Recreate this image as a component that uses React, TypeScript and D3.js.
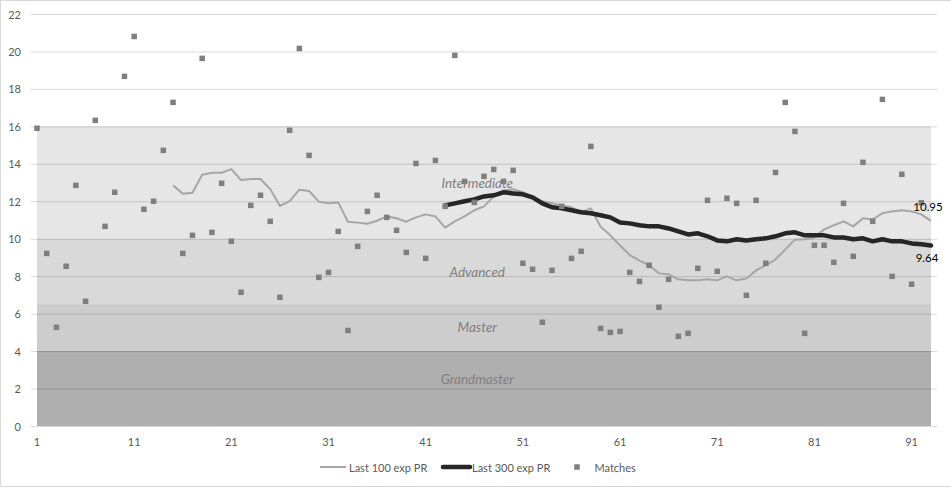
import React from "react";
import * as d3 from "d3";

// scatter: one match per game, game 1..92
const matches = [
  15.9, 9.22, 5.27, 8.53, 12.85, 6.66, 16.32, 10.66, 12.48, 18.67,
  20.8, 11.57, 12.0, 14.72, 17.28, 9.22, 10.18, 19.63, 10.34, 12.96,
  9.86, 7.14, 11.78, 12.32, 10.93, 6.87, 15.79, 20.16, 14.45, 7.94,
  8.2, 10.39, 5.1, 9.59, 11.46, 12.32, 11.14, 10.45, 9.27, 14.02,
  8.95, 14.18, 11.73, 19.79, 13.06, 11.94, 13.33, 13.7, 13.06, 13.65,
  8.69, 8.37, 5.54, 8.31, 11.73, 8.95, 9.33, 14.93, 5.21, 5.0,
  5.05, 8.2, 7.72, 8.58, 6.34, 7.83, 4.79, 4.95, 8.42, 12.05,
  8.26, 12.16, 11.89, 6.98, 12.05, 8.69, 13.54, 17.28, 15.73, 4.95,
  9.65, 9.65, 8.74, 11.89, 9.06, 14.08, 10.93, 17.44, 7.99, 13.44,
  7.57, 11.92,
];

// rolling averages, with the game they start at
const last100Start = 15;
const last100 = [
  12.85, 12.4, 12.46, 13.42, 13.52, 13.52, 13.72, 13.13, 13.19, 13.19,
  12.65, 11.75, 12.01, 12.62, 12.55, 11.98, 11.89, 11.94, 10.91, 10.86,
  10.8, 10.96, 11.19, 11.09, 10.91, 11.14, 11.3, 11.19, 10.59, 10.93,
  11.19, 11.52, 11.73, 12.26, 12.58, 12.64, 12.48, 12.26, 12.0, 11.89,
  11.78, 11.68, 11.41, 11.62, 10.64, 10.18, 9.64, 9.13, 8.83, 8.58,
  8.15, 8.1, 7.83, 7.78, 7.78, 7.83, 7.78, 7.99, 7.78, 7.88,
  8.31, 8.58, 8.9, 9.42, 9.95, 9.97, 10.07, 10.5, 10.72, 10.93,
  10.66, 11.09, 11.03, 11.36, 11.46, 11.52, 11.46, 11.3, 10.95,
];

const last300Start = 43;
const last300 = [
  11.78, 11.89, 12.0, 12.1, 12.26, 12.32, 12.48, 12.42, 12.37, 12.21,
  11.89, 11.68, 11.62, 11.52, 11.41, 11.36, 11.25, 11.14, 10.87, 10.82,
  10.72, 10.66, 10.66, 10.55, 10.39, 10.23, 10.29, 10.13, 9.91, 9.86,
  9.97, 9.91, 9.97, 10.02, 10.13, 10.29, 10.34, 10.18, 10.18, 10.18,
  10.07, 10.07, 9.97, 10.02, 9.86, 9.97, 9.86, 9.86, 9.75, 9.7, 9.64,
];

const gameCount = 93;
const bandNames = ["Grandmaster", "Master", "Advanced", "Intermediate"];
const bandBounds = [0, 4, 6.5, 10, 16];
const bandLabelAt = [2.5, 5.3, 8.2, 13.0];
const bandOpacity = [0.314, 0.196, 0.149, 0.098];
const yTicks = d3.range(0, 23, 2);
const xTicks = d3.range(1, 93, 10);

const FONT = "Lato, 'Open Sans', sans-serif";

const App = () => {
  const width = 951;
  const height = 488;
  const games = d3.range(1, gameCount + 1);

  const x = d3.scalePoint<number>().domain(games).range([37, 931]);
  const y = d3.scaleLinear().domain([0, 22]).range([426, 14]);
  const gx = (g: number) => x(g) as number;

  const line = d3
    .line<[number, number]>()
    .x((d) => gx(d[0]))
    .y((d) => y(d[1]));

  const s100 = last100.map((v, i) => [last100Start + i, v] as [number, number]);
  const s300 = last300.map((v, i) => [last300Start + i, v] as [number, number]);

  const area = (lo: number, hi: number) =>
    d3
      .area<number>()
      .x((g) => gx(g))
      .y0(y(lo))
      .y1(y(hi))(games) as string;

  const last100End = s100[s100.length - 1];
  const last300End = s300[s300.length - 1];

  return (
    <svg
      width={width}
      height={height}
      style={{ position: "absolute", left: 0, top: 0, background: "#fff" }}
      fontFamily={FONT}
    >
      <rect x={0.5} y={0.5} width={width} height={486} fill="#fff" stroke="#d9d9d9" />

      {/* gridlines */}
      {yTicks.map((t) => (
        <line key={t} x1={31} x2={937} y1={y(t) + 0.5} y2={y(t) + 0.5} stroke="#d9d9d9" strokeWidth={1} />
      ))}

      {/* rank bands */}
      {bandNames.map((name, i) => (
        <path key={name} d={area(bandBounds[i], bandBounds[i + 1])} fill="#000" fillOpacity={bandOpacity[i]} />
      ))}

      {/* y axis labels */}
      {yTicks.map((t) => (
        <text key={t} x={21} y={y(t)} textAnchor="end" dominantBaseline="central" fontSize={11} fill="#595959">
          {t}
        </text>
      ))}

      {/* x axis labels */}
      {xTicks.map((t) => (
        <text key={t} x={gx(t)} y={441} textAnchor="middle" dominantBaseline="central" fontSize={11} fill="#595959">
          {t}
        </text>
      ))}

      <path d={line(s100) as string} fill="none" stroke="#a6a6a6" strokeWidth={2} strokeLinejoin="round" />
      <path d={line(s300) as string} fill="none" stroke="#262626" strokeWidth={4.5} strokeLinejoin="round" strokeLinecap="round" />

      {matches.map((v, i) => (
        <rect key={i} x={gx(i + 1) - 2.75} y={y(v) - 2.75} width={5.5} height={5.5} fill="#7f7f7f" />
      ))}

      {/* band labels */}
      {bandNames.map((name, i) => (
        <text
          key={name}
          x={gx(46) + 3}
          y={y(bandLabelAt[i])}
          textAnchor="middle"
          dominantBaseline="central"
          fontSize={13.5}
          fontStyle="italic"
          fill="#7f7f7f"
        >
          {name}
        </text>
      ))}

      {/* end labels */}
      <text x={gx(last100End[0]) - 3} y={y(last100End[1]) - 14} textAnchor="middle" dominantBaseline="central" fontSize={11.5} fill="#000">
        {last100End[1].toFixed(2)}
      </text>
      <text x={gx(last300End[0]) - 4} y={y(last300End[1]) + 12} textAnchor="middle" dominantBaseline="central" fontSize={11.5} fill="#000">
        {last300End[1].toFixed(2)}
      </text>

      {/* legend */}
      <g fontSize={11} fill="#595959">
        <line x1={320} x2={346} y1={467} y2={467} stroke="#a6a6a6" strokeWidth={2} />
        <text x={349} y={467} dominantBaseline="central">Last 100 exp PR</text>
        <line x1={443} x2={470} y1={467} y2={467} stroke="#262626" strokeWidth={4.5} strokeLinecap="round" />
        <text x={472} y={467} dominantBaseline="central">Last 300 exp PR</text>
        <rect x={574.25} y={464.25} width={5.5} height={5.5} fill="#7f7f7f" />
        <text x={594.5} y={467} dominantBaseline="central">Matches</text>
      </g>
    </svg>
  );
};

export default App;
